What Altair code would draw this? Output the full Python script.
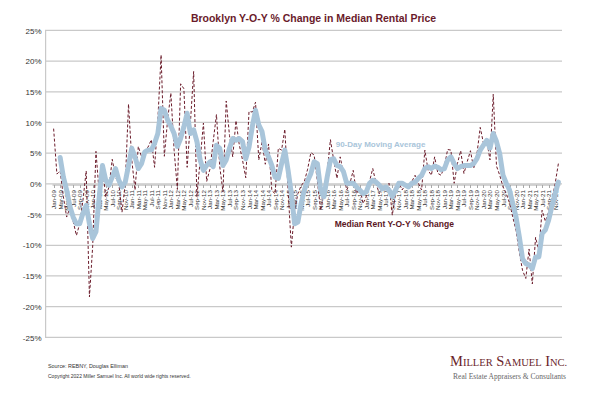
import altair as alt
import pandas as pd

# ---------------- data ----------------
MONTH_NAMES = ["Jan", "Feb", "Mar", "Apr", "May", "Jun",
               "Jul", "Aug", "Sep", "Oct", "Nov", "Dec"]
YEARS = list(range(2009, 2022))
months = [f"{m}-{y % 100:02d}" for y in YEARS for m in MONTH_NAMES]

# Median Rent Y-O-Y % change
yoy_change = [
    9.1, 1.7, 2.2, -2.0, -5.3, -3.8, -6.0, -8.3, -6.4, -2.6, 2.2, -18.3,      # 2009
    -10.0, 5.4, -1.5, 3.0, -2.0, -0.4, 4.1, 1.2, 0.2, -4.5, 0.2, 13.1,       # 2010
    4.0, -0.9, 6.2, 4.5, 5.6, 6.1, 7.3, 2.8, 10.5, 21.1, 4.6, 10.5,          # 2011
    14.9, 5.6, -0.8, 16.4, 15.6, 2.8, 10.0, 18.4, -2.0, 4.0, 10.0, 0.5,      # 2012
    2.5, 7.0, 11.4, 3.0, -1.2, 13.6, 8.0, 4.5, 10.4, 6.5, 4.0, 1.1,          # 2013
    11.9, 11.8, 13.4, 4.0, 7.0, 3.3, 6.6, -1.0, -1.5, 5.9, 5.6, 9.0,         # 2014
    -1.0, -10.2, -4.2, -1.5, -0.2, 0.5, 2.5, 5.2, 4.8, 0.5, -4.2, -1.5,      # 2015
    2.0, 7.3, 4.0, 1.0, 4.5, 1.8, -0.9, 0.2, 2.3, -1.5, -0.4, -3.1,          # 2016
    -2.0, 0.5, 2.6, 0.2, -1.5, -0.4, -0.9, 0.2, -5.0, -1.5, 0.4, -0.9,       # 2017
    -0.1, -0.7, 0.5, 1.5, 0.2, -0.9, 5.6, 2.3, 1.5, 4.5, 1.8, 1.5,           # 2018
    3.0, 5.7, 5.6, 0.2, 3.4, 5.5, 1.8, 3.7, 5.5, 2.6, 5.0, 9.3,              # 2019
    6.7, 7.2, 4.0, 14.7, 3.0, 1.5, -0.4, -1.5, -3.0, -5.3, -7.5, -11.0,      # 2020
    -14.0, -15.3, -10.5, -16.2, -8.6, -10.8, -4.2, -6.0, -4.5, -2.5, 0.1, 3.4,  # 2021
]

# 90-Day moving average
moving_avg = [
    None, None, 4.4, 1.2, -0.9, -3.6, -5.3, -6.4, -6.4, -4.7, -3.4, -6.4,    # 2009
    -8.8, -7.7, -2.0, 3.1, 0.7, -0.1, 1.2, 2.6, 0.7, -0.4, 0.4, 3.1,         # 2010
    5.9, 4.5, 2.6, 3.4, 5.3, 5.6, 5.6, 6.7, 8.3, 12.4, 12.1, 10.5,           # 2011
    9.5, 8.3, 6.2, 7.5, 9.4, 11.6, 8.3, 8.9, 7.0, 4.0, 2.3, 3.1,             # 2012
    3.7, 2.9, 6.4, 5.9, 3.1, 4.0, 5.9, 7.5, 7.2, 7.5, 7.0, 4.2,              # 2013
    6.1, 9.4, 12.1, 9.7, 8.6, 5.6, 4.5, 3.1, 1.2, 1.0, 3.4, 5.6,             # 2014
    2.3, -1.5, -6.4, -6.1, -3.1, -0.9, 0.6, 1.8, 3.7, 3.4, -0.9, -2.0,       # 2015
    1.2, 4.0, 4.2, 3.1, 2.9, 2.1, 0.2, 0.2, 0.2, -0.4, -0.9, -1.5,           # 2016
    -1.2, 0.2, 0.7, 0.4, -0.1, -0.7, -0.4, -0.9, -2.0, -0.9, 0.2, 0.2,       # 2017
    -0.1, -0.4, 0.2, 0.4, 1.0, 1.5, 2.6, 2.9, 2.6, 3.0, 2.8, 2.4,            # 2018
    2.6, 4.0, 4.5, 3.4, 2.6, 2.9, 3.1, 3.1, 3.1, 3.4, 4.2, 5.6,              # 2019
    6.4, 7.2, 5.9, 8.3, 7.0, 5.0, 1.5, 0.2, -0.9, -3.1, -5.3, -8.5,          # 2020
    -12.1, -12.9, -13.1, -13.7, -11.8, -11.8, -8.0, -7.4, -5.8, -3.6, -1.5, 0.4,  # 2021
]

y_ticks = [-25, -20, -15, -10, -5, 0, 5, 10, 15, 20, 25]
x_tick_labels = months[::2]

title_text = "Brooklyn Y-O-Y % Change in Median Rental Price"
ma_label = "90-Day Moving Average"
yoy_label = "Median Rent Y-O-Y % Change"
source_note = "Source: REBNY, Douglas Elliman"
copyright_note = "Copyright 2022 Miller Samuel Inc.  All world wide rights reserved."
firm_tagline = "Real Estate Appraisers & Consultants"

df = pd.DataFrame({"month": months, "yoy": yoy_change, "ma": moving_avg})

# ---------------- styling ----------------
W, H = 517, 307
FONT = "Liberation Sans"
SERIF = "Liberation Serif"
MAROON = "#6b1c2b"
BLUE = "#a9c5da"
GRID = "#c9c9c9"

x_scale = alt.Scale(type="point", range=[7, 515])
y_scale = alt.Scale(domain=[-25, 25], nice=False, zero=False)

x_axis = alt.Axis(
    values=x_tick_labels, labelAngle=-90, labelFontSize=6.2, labelFont=FONT,
    labelColor="#333333", labelPadding=2, domainColor="#a8a8a8",
    tickColor="#a8a8a8", tickSize=3, offset=-H / 2, title=None, grid=False,
    labelOverlap=False,
)
y_axis = alt.Axis(
    values=y_ticks, labelExpr="datum.value + '%'", labelFontSize=8,
    labelFont=FONT, labelColor="#333333", grid=False, domain=False,
    ticks=False, labelPadding=4, title=None, labelOverlap=False,
)


def xy(yfield):
    return dict(
        x=alt.X("month:O", sort=months, scale=x_scale, axis=x_axis),
        y=alt.Y(yfield, scale=y_scale, axis=y_axis),
    )


# horizontal gridlines at the y tick values, drawn as thin filled bands
grid = alt.Chart(pd.DataFrame({"yoy": y_ticks})).transform_calculate(
    yoy_hi="datum.yoy + 0.2"
).mark_rect(color=GRID, opacity=1).encode(
    y=alt.Y("yoy:Q", scale=y_scale, axis=y_axis),
    y2="yoy_hi:Q",
    x=alt.value(0),
    x2=alt.value(W),
)

# left axis line as a thin band
left_line = alt.Chart(pd.DataFrame({"t": [0]})).mark_rect(
    color=GRID, opacity=1
).encode(x=alt.value(0), x2=alt.value(1.2), y=alt.value(0), y2=alt.value(H))

base = alt.Chart(df)

red = base.mark_line(color=MAROON, strokeWidth=1, strokeDash=[3, 2]).encode(**xy("yoy:Q"))
blue = base.mark_line(color=BLUE, strokeWidth=5, strokeJoin="round",
                      strokeCap="round").encode(**xy("ma:Q"))

ann_ma = alt.Chart(pd.DataFrame({"month": ["Mar-16"], "yoy": [6.5], "t": [ma_label]})).mark_text(
    align="left", baseline="middle", dx=2, font=FONT, fontWeight="bold",
    fontSize=8, color=BLUE,
).encode(text="t:N", **xy("yoy:Q"))

ann_yoy = alt.Chart(pd.DataFrame({"month": ["Mar-16"], "yoy": [-6.5], "t": [yoy_label]})).mark_text(
    align="left", baseline="middle", dx=1, font=FONT, fontWeight="bold",
    fontSize=8.5, color="#5a1522",
).encode(text="t:N", **xy("yoy:Q"))


def note(text, px, py, size, font=FONT, color="#333333", align="left", weight="normal"):
    return alt.Chart(pd.DataFrame({"t": [text]})).mark_text(
        align=align, baseline="alphabetic", font=font, fontSize=size,
        color=color, fontWeight=weight,
    ).encode(x=alt.value(px), y=alt.value(py), text="t:N")


footer = [
    note(source_note, 3, 337, 5.4),
    note(copyright_note, 3, 347, 5.0),
    note(firm_tagline, 521, 348, 7.5, font=SERIF, color="#666666", align="right"),
]

# small-caps style firm name
logo_parts = [("M", 405.0, 14.5), ("ILLER", 417.9, 10.5), ("S", 451.2, 14.5),
              ("AMUEL", 459.3, 10.5), ("I", 500.2, 14.5), ("NC.", 505.0, 10.5)]
logo = [note(t, px, 335, s, font=SERIF, color="#6b1f2b") for t, px, s in logo_parts]

chart = alt.layer(grid, left_line, red, blue, ann_ma, ann_yoy, *footer, *logo).properties(
    width=W,
    height=H,
    title=alt.TitleParams(title_text, fontSize=10.5, font=FONT, fontWeight="bold",
                          color="#6a1b2b", anchor="middle", dx=10, offset=3),
    padding={"left": 37, "top": 23, "right": 30, "bottom": 48},
    autosize=alt.AutoSizeParams(type="none"),
    background="white",
).configure_view(stroke=None).configure_axisY(labelOverlap=False)

chart.save("out.html", embed_options={"renderer": "svg", "actions": False})
